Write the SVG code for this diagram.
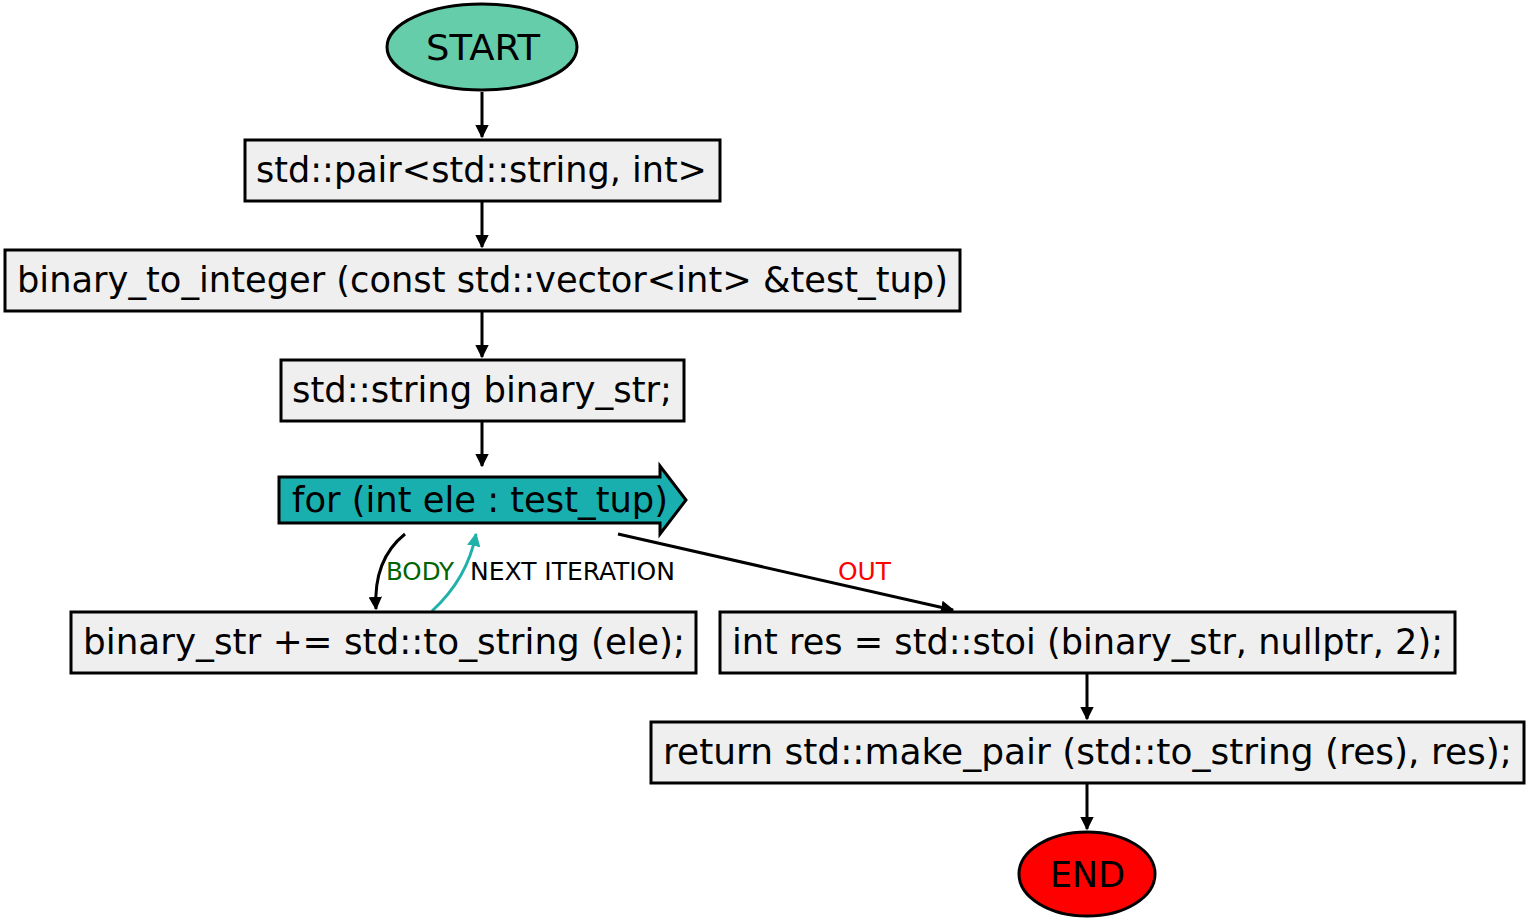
<svg xmlns="http://www.w3.org/2000/svg" width="1529" height="923" viewBox="0 0 1529 923">
<style>
.n{stroke:#000;stroke-width:3}
.box{fill:#efefef}
.t{font-family:"DejaVu Sans",sans-serif;font-size:36px;fill:#000;text-anchor:middle}
.l{font-family:"DejaVu Sans Condensed","DejaVu Sans",sans-serif;font-size:25px}
.e{fill:none;stroke:#000;stroke-width:3}
</style>
<defs>
<marker id="ab" viewBox="0 0 10 10" refX="9" refY="5" markerWidth="4.5" markerHeight="4.5" orient="auto" markerUnits="strokeWidth"><path d="M0,0 L10,5 L0,10 z" fill="#000"/></marker>
<marker id="at" viewBox="0 0 10 10" refX="9" refY="5" markerWidth="4.5" markerHeight="4.5" orient="auto" markerUnits="strokeWidth"><path d="M0,0 L10,5 L0,10 z" fill="#20b2aa"/></marker>
</defs>
<rect width="1529" height="923" fill="#fff"/>
<g id="connectors">
<path class="e" d="M482,92 L482,137" marker-end="url(#ab)"/>
<path class="e" d="M482,202 L482,247" marker-end="url(#ab)"/>
<path class="e" d="M482,312 L482,357" marker-end="url(#ab)"/>
<path class="e" d="M482,422 L482,466" marker-end="url(#ab)"/>
<path class="e" d="M405,534 C385,550 374,575 376,609" marker-end="url(#ab)"/>
<path class="e" d="M432,611 C455,590 470,565 476,534" style="stroke:#20b2aa" marker-end="url(#at)"/>
<path class="e" d="M618,534 L953,610" marker-end="url(#ab)"/>
<path class="e" d="M1087,674 L1087,719" marker-end="url(#ab)"/>
<path class="e" d="M1087,784 L1087,829" marker-end="url(#ab)"/>
<text class="l" x="386" y="580" fill="#006400" textLength="68" lengthAdjust="spacingAndGlyphs">BODY</text>
<text class="l" x="470" y="580" fill="#000" textLength="205" lengthAdjust="spacingAndGlyphs">NEXT ITERATION</text>
<text class="l" x="838" y="580" fill="#ff0000" textLength="53" lengthAdjust="spacingAndGlyphs">OUT</text>
</g>
<g id="start">
<ellipse class="n" cx="482" cy="47" rx="95" ry="43" fill="#66cdaa"/>
<text class="t" x="483" y="60" textLength="114" lengthAdjust="spacingAndGlyphs">START</text>
</g>
<g id="pair">
<rect class="n box" x="245" y="140" width="475" height="61"/>
<text class="t" x="481.5" y="182" textLength="451" lengthAdjust="spacingAndGlyphs">std::pair&lt;std::string, int&gt;</text>
</g>
<g id="func">
<rect class="n box" x="5" y="250" width="955" height="61"/>
<text class="t" x="482.5" y="292" textLength="931" lengthAdjust="spacingAndGlyphs">binary_to_integer (const std::vector&lt;int&gt; &amp;test_tup)</text>
</g>
<g id="decl">
<rect class="n box" x="281" y="360" width="403" height="61"/>
<text class="t" x="482" y="402" textLength="380" lengthAdjust="spacingAndGlyphs">std::string binary_str;</text>
</g>
<g id="loop">
<polygon class="n" points="279,477 660,477 660,466 686,500 660,534 660,523 279,523" fill="#1aafaf"/>
<text class="t" x="480" y="512" textLength="376" lengthAdjust="spacingAndGlyphs">for (int ele : test_tup)</text>
</g>
<g id="body">
<rect class="n box" x="71" y="612" width="625" height="61"/>
<text class="t" x="384" y="654" textLength="602" lengthAdjust="spacingAndGlyphs">binary_str += std::to_string (ele);</text>
</g>
<g id="stoi">
<rect class="n box" x="720" y="612" width="735" height="61"/>
<text class="t" x="1087.5" y="654" textLength="711" lengthAdjust="spacingAndGlyphs">int res = std::stoi (binary_str, nullptr, 2);</text>
</g>
<g id="ret">
<rect class="n box" x="651" y="722" width="873" height="61"/>
<text class="t" x="1087.5" y="764" textLength="849" lengthAdjust="spacingAndGlyphs">return std::make_pair (std::to_string (res), res);</text>
</g>
<g id="end">
<ellipse class="n" cx="1087" cy="874" rx="68" ry="42" fill="#ff0000"/>
<text class="t" x="1087.5" y="887" textLength="75" lengthAdjust="spacingAndGlyphs">END</text>
</g>
</svg>
